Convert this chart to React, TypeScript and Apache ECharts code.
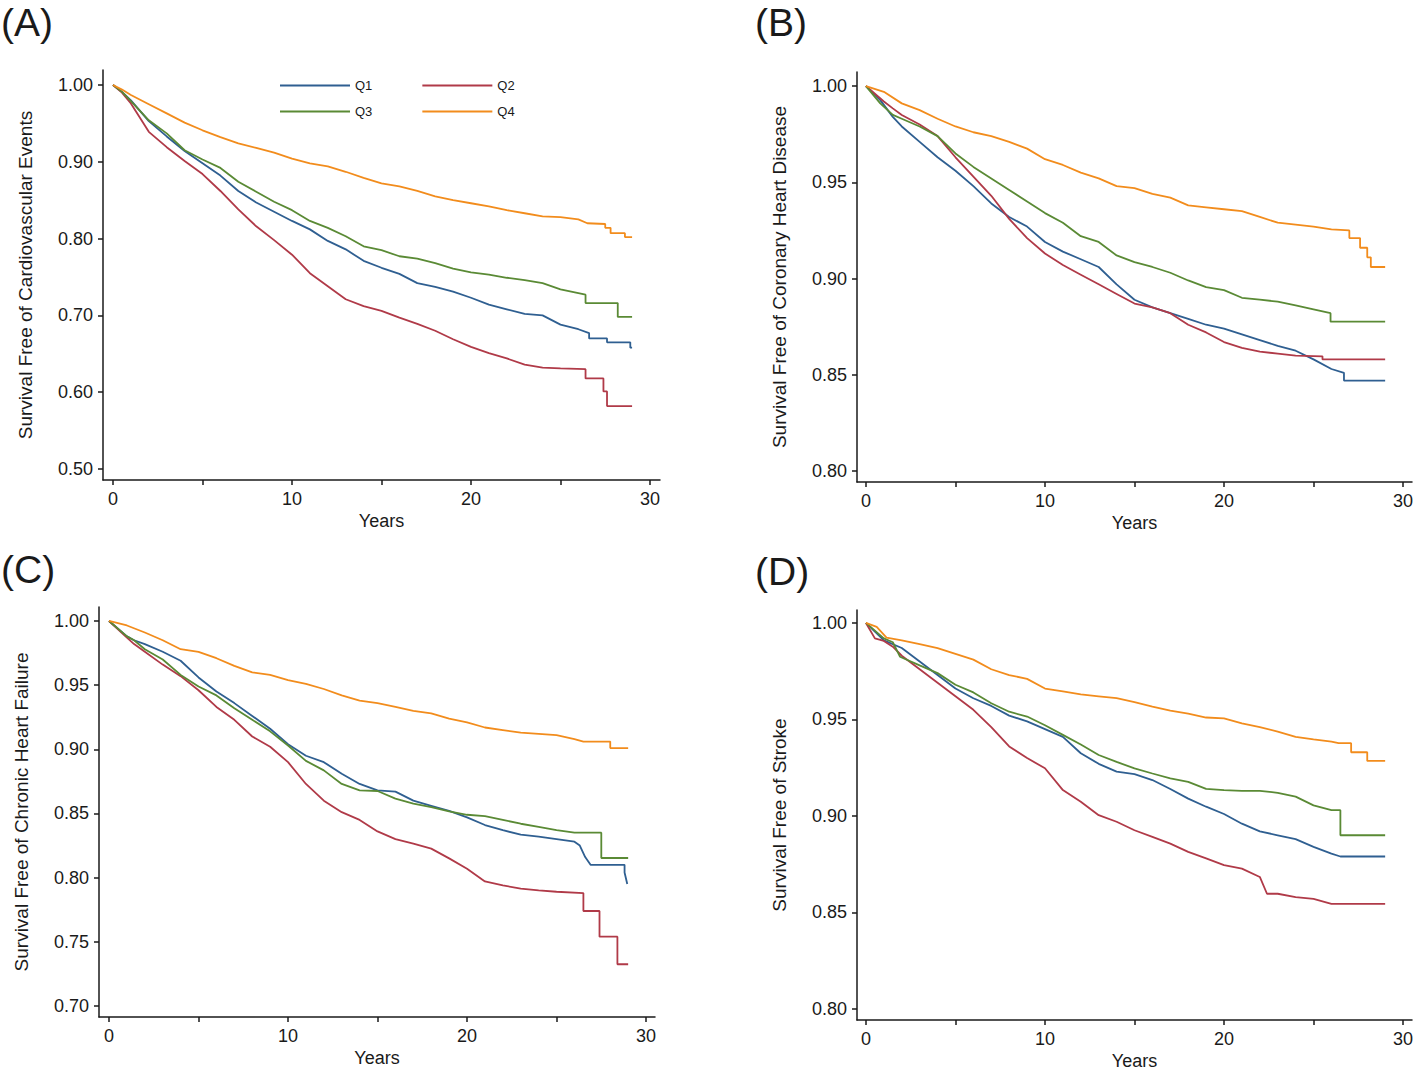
import React, { useEffect, useRef } from "react";
import * as echarts from "echarts";

type Pt = [number, number];

// ---------- Data (Kaplan-Meier survival) ----------
const seriesNames = ["Q1", "Q2", "Q3", "Q4"];
const seriesColors = ["#2f5f91", "#b03a48", "#5a8a35", "#f28c1c"];

const xTickValues = [0, 5, 10, 15, 20, 25, 30];
const xLabelValues = [0, 10, 20, 30];

const panelLetters = ["(A)", "(B)", "(C)", "(D)"];
const yTitles = [
  "Survival Free of Cardiovascular Events",
  "Survival Free of Coronary Heart Disease",
  "Survival Free of Chronic Heart Failure",
  "Survival Free of Stroke",
];
const yTicksA = [0.5, 0.6, 0.7, 0.8, 0.9, 1.0];
const yTicksB = [0.8, 0.85, 0.9, 0.95, 1.0];
const yTicksC = [0.7, 0.75, 0.8, 0.85, 0.9, 0.95, 1.0];
const yTicksD = [0.8, 0.85, 0.9, 0.95, 1.0];

// (A) Cardiovascular events
const cvdQ1: Pt[] = [[0,1],[0.5,0.991],[1,0.98],[2,0.953],[3,0.933],[4,0.914],[5,0.898],[6,0.882],[7,0.862],[8,0.847],[9,0.835],[10,0.823],[11,0.812],[12,0.797],[13,0.786],[14,0.771],[15,0.762],[16,0.754],[17,0.742],[18,0.737],[19,0.731],[20,0.723],[21,0.714],[22,0.708],[23,0.702],[24,0.7],[25,0.688],[26,0.682],[26.6,0.677],[26.6,0.67],[27.6,0.67],[27.6,0.665],[28.9,0.665],[28.9,0.658],[29,0.658]];
const cvdQ2: Pt[] = [[0,1],[0.5,0.99],[1,0.976],[2,0.939],[3,0.919],[4,0.901],[5,0.884],[6,0.862],[7,0.838],[8,0.816],[9,0.798],[10,0.779],[11,0.755],[12,0.738],[13,0.721],[14,0.712],[15,0.706],[16,0.697],[17,0.689],[18,0.68],[19,0.669],[20,0.659],[21,0.651],[22,0.644],[23,0.636],[24,0.632],[25,0.631],[26.4,0.63],[26.4,0.618],[27.4,0.618],[27.4,0.601],[27.6,0.601],[27.6,0.582],[29,0.582]];
const cvdQ3: Pt[] = [[0,1],[0.5,0.991],[1,0.979],[2,0.954],[3,0.937],[4,0.915],[5,0.903],[6,0.892],[7,0.874],[8,0.861],[9,0.848],[10,0.837],[11,0.823],[12,0.814],[13,0.803],[14,0.79],[15,0.785],[16,0.777],[17,0.774],[18,0.768],[19,0.761],[20,0.756],[21,0.753],[22,0.749],[23,0.746],[24,0.742],[25,0.734],[26.4,0.727],[26.4,0.716],[28.2,0.716],[28.2,0.698],[29,0.698]];
const cvdQ4: Pt[] = [[0,1],[0.5,0.994],[1,0.987],[2,0.975],[3,0.963],[4,0.951],[5,0.941],[6,0.932],[7,0.924],[8,0.918],[9,0.912],[10,0.904],[11,0.898],[12,0.894],[13,0.887],[14,0.879],[15,0.872],[16,0.868],[17,0.862],[18,0.855],[19,0.85],[20,0.846],[21,0.842],[22,0.837],[23,0.833],[24,0.829],[25,0.828],[26,0.825],[26.5,0.82],[27.5,0.819],[27.5,0.814],[27.8,0.814],[27.8,0.807],[28.6,0.807],[28.6,0.802],[29,0.802]];

// (B) Coronary heart disease
const chdQ1: Pt[] = [[0,1],[0.8,0.9927],[1.5,0.984],[2,0.979],[3,0.971],[4,0.963],[5,0.956],[6,0.948],[7,0.939],[8,0.932],[9,0.927],[10,0.919],[11,0.914],[12,0.91],[13,0.906],[14,0.897],[15,0.889],[16,0.885],[17,0.882],[18,0.879],[19,0.876],[20,0.874],[21,0.871],[22,0.868],[23,0.865],[24,0.8625],[25,0.858],[26,0.853],[26.7,0.851],[26.7,0.847],[29,0.847]];
const chdQ2: Pt[] = [[0,1],[1,0.992],[1.5,0.9884],[2,0.985],[3,0.98],[4,0.974],[5,0.963],[6,0.953],[7,0.943],[8,0.931],[9,0.921],[10,0.913],[11,0.907],[12,0.902],[13,0.897],[14,0.892],[15,0.887],[16,0.885],[17,0.882],[18,0.876],[19,0.872],[20,0.867],[21,0.864],[22,0.862],[23,0.861],[24,0.86],[25.5,0.8596],[25.5,0.858],[29,0.858]];
const chdQ3: Pt[] = [[0,1],[0.8,0.991],[1.5,0.985],[2,0.983],[3,0.979],[4,0.974],[5,0.965],[6,0.958],[7,0.952],[8,0.946],[9,0.94],[10,0.934],[11,0.929],[12,0.922],[13,0.919],[14,0.912],[15,0.9085],[16,0.906],[17,0.903],[18,0.899],[19,0.8955],[20,0.894],[21,0.89],[22,0.889],[23,0.888],[24,0.886],[25,0.884],[25.95,0.882],[25.95,0.8776],[29,0.8776]];
const chdQ4: Pt[] = [[0,1],[1,0.997],[2,0.991],[3,0.9875],[4,0.983],[5,0.979],[6,0.976],[7,0.974],[8,0.971],[9,0.9675],[10,0.962],[11,0.959],[12,0.955],[13,0.952],[14,0.948],[15,0.947],[16,0.944],[17,0.942],[18,0.938],[19,0.937],[20,0.936],[21,0.935],[22,0.932],[23,0.929],[24,0.928],[25,0.927],[26,0.9255],[27,0.925],[27,0.921],[27.6,0.921],[27.6,0.916],[28,0.916],[28,0.911],[28.2,0.911],[28.2,0.906],[29,0.906]];

// (C) Chronic heart failure
const chfQ1: Pt[] = [[0,1],[1,0.988],[1.4,0.985],[2,0.982],[3,0.976],[4,0.969],[5,0.956],[6,0.945],[7,0.936],[8,0.926],[9,0.916],[10,0.904],[11,0.895],[12,0.89],[13,0.881],[14,0.873],[15,0.868],[16,0.867],[17,0.86],[18,0.856],[19,0.852],[20,0.847],[21,0.841],[22,0.837],[23,0.8335],[24,0.832],[25,0.83],[26,0.828],[26.3,0.825],[26.6,0.816],[26.9,0.81],[28.8,0.81],[28.8,0.804],[28.95,0.795]];
const chfQ2: Pt[] = [[0,1],[1,0.987],[1.4,0.982],[2,0.976],[3,0.966],[4,0.957],[5,0.946],[6,0.933],[7,0.923],[8,0.91],[9,0.902],[10,0.89],[11,0.873],[12,0.86],[13,0.851],[14,0.845],[15,0.836],[16,0.83],[17,0.8265],[18,0.8226],[19,0.815],[20,0.807],[21,0.797],[22,0.794],[23,0.7914],[24,0.79],[25,0.789],[26.5,0.788],[26.5,0.774],[27.4,0.774],[27.4,0.754],[28.4,0.754],[28.4,0.7325],[29,0.7325]];
const chfQ3: Pt[] = [[0,1],[1,0.988],[1.4,0.985],[2,0.978],[3,0.97],[4,0.958],[5,0.949],[6,0.942],[7,0.932],[8,0.923],[9,0.914],[10,0.903],[11,0.891],[12,0.8836],[13,0.873],[14,0.868],[15,0.8675],[16,0.8616],[17,0.8577],[18,0.855],[19,0.8517],[20,0.849],[21,0.848],[22,0.845],[23,0.842],[24,0.8395],[25,0.837],[26,0.835],[27.5,0.835],[27.5,0.8153],[29,0.8153]];
const chfQ4: Pt[] = [[0,1],[1,0.9965],[2,0.991],[3,0.985],[4,0.978],[5,0.976],[6,0.971],[7,0.965],[8,0.96],[9,0.958],[10,0.954],[11,0.951],[12,0.947],[13,0.942],[14,0.938],[15,0.936],[16,0.933],[17,0.93],[18,0.928],[19,0.924],[20,0.921],[21,0.917],[22,0.915],[23,0.913],[24,0.912],[25,0.911],[26,0.908],[26.5,0.906],[28,0.906],[28,0.901],[29,0.901]];

// (D) Stroke
const strQ1: Pt[] = [[0,1],[0.5,0.9955],[1,0.991],[2,0.987],[3,0.98],[4,0.973],[5,0.966],[6,0.961],[7,0.957],[8,0.952],[9,0.949],[10,0.945],[11,0.941],[12,0.9325],[13,0.927],[14,0.923],[15,0.9217],[16,0.9186],[17,0.914],[18,0.909],[19,0.9048],[20,0.901],[21,0.896],[22,0.892],[23,0.89],[24,0.888],[25,0.884],[26,0.8805],[26.5,0.879],[29,0.879]];
const strQ2: Pt[] = [[0,1],[0.5,0.992],[1,0.9907],[1.5,0.9877],[2,0.983],[3,0.976],[4,0.969],[5,0.962],[6,0.955],[7,0.946],[8,0.936],[9,0.93],[10,0.9247],[11,0.9134],[12,0.9074],[13,0.9004],[14,0.897],[15,0.8926],[16,0.8892],[17,0.8857],[18,0.8814],[19,0.878],[20,0.8745],[21,0.8727],[22,0.8684],[22.4,0.8597],[23,0.8597],[24,0.858],[25,0.857],[26,0.8545],[29,0.8545]];
const strQ3: Pt[] = [[0,1],[1,0.992],[1.5,0.99],[1.9,0.9825],[3,0.978],[4,0.974],[5,0.968],[6,0.964],[7,0.9584],[8,0.954],[9,0.9515],[10,0.947],[11,0.942],[12,0.937],[13,0.9316],[14,0.928],[15,0.9247],[16,0.922],[17,0.9195],[18,0.9177],[19,0.914],[20,0.9134],[21,0.913],[22,0.913],[23,0.912],[24,0.91],[25,0.9055],[26,0.903],[26.5,0.903],[26.5,0.89],[29,0.89]];
const strQ4: Pt[] = [[0,1],[0.6,0.998],[1.15,0.9924],[2,0.991],[3,0.989],[4,0.987],[5,0.984],[6,0.981],[7,0.976],[8,0.973],[9,0.971],[10,0.966],[11,0.9645],[12,0.963],[13,0.962],[14,0.961],[15,0.959],[16,0.9567],[17,0.9546],[18,0.953],[19,0.951],[20,0.9506],[21,0.948],[22,0.946],[23,0.9437],[24,0.941],[25,0.9397],[26,0.9385],[26.4,0.9377],[27.1,0.9377],[27.1,0.933],[28,0.933],[28,0.9285],[29,0.9285]];

const panelData: Pt[][][] = [
  [cvdQ1, cvdQ2, cvdQ3, cvdQ4],
  [chdQ1, chdQ2, chdQ3, chdQ4],
  [chfQ1, chfQ2, chfQ3, chfQ4],
  [strQ1, strQ2, strQ3, strQ4],
];
const panelYTicks = [yTicksA, yTicksB, yTicksC, yTicksD];

// ---------- Layout ----------
const FONT = "'Liberation Sans', Arial, Helvetica, sans-serif";
const INK = "#1a1a1a";

const layout = [
  { left: 103, top: 70, width: 557, height: 410, xMin: -0.56, xMax: 30.56, yMin: 0.4857, yMax: 1.0195, letterX: 1, letterY: 3 },
  { left: 857, top: 72, width: 555, height: 410, xMin: -0.5, xMax: 30.5, yMin: 0.7943, yMax: 1.0073, letterX: 755, letterY: 3 },
  { left: 99, top: 607, width: 556, height: 410, xMin: -0.56, xMax: 30.5, yMin: 0.6914, yMax: 1.0109, letterX: 1, letterY: 550 },
  { left: 857, top: 610, width: 555, height: 410, xMin: -0.5, xMax: 30.5, yMin: 0.7943, yMax: 1.0067, letterX: 755, letterY: 552 },
];

export default function App() {
  const ref = useRef<HTMLDivElement>(null);

  useEffect(() => {
    if (!ref.current) return;
    const chart = echarts.init(ref.current, null, { renderer: "svg" });

    const axisLineStyle = { color: INK, width: 1.5 };

    const legendBase = {
      left: 275,
      orient: "horizontal",
      icon: "rect",
      itemWidth: 70,
      itemHeight: 2,
      itemGap: 50,
      textStyle: { fontSize: 13, color: INK, fontFamily: FONT },
      selectedMode: false,
    };

    const option: any = {
      animation: false,
      backgroundColor: "#ffffff",
      textStyle: { fontFamily: FONT },
      grid: layout.map((l) => ({
        left: l.left,
        top: l.top,
        width: l.width,
        height: l.height,
        containLabel: false,
      })),
      xAxis: layout.map((l, i) => ({
        type: "value",
        gridIndex: i,
        min: l.xMin,
        max: l.xMax,
        name: "Years",
        nameLocation: "middle",
        nameGap: 32,
        nameTextStyle: { fontSize: 18, color: INK, fontFamily: FONT },
        axisLine: { show: true, onZero: false, lineStyle: axisLineStyle },
        axisTick: { show: true, customValues: xTickValues, length: 5, lineStyle: axisLineStyle },
        axisLabel: { customValues: xLabelValues, fontSize: 18, margin: 10, color: INK, fontFamily: FONT },
        splitLine: { show: false },
      })),
      yAxis: layout.map((l, i) => ({
        type: "value",
        gridIndex: i,
        min: l.yMin,
        max: l.yMax,
        name: yTitles[i],
        nameLocation: "middle",
        nameRotate: 90,
        nameGap: 68,
        nameTextStyle: { fontSize: 19, color: INK, fontFamily: FONT },
        axisLine: { show: true, onZero: false, lineStyle: axisLineStyle },
        axisTick: { show: true, customValues: panelYTicks[i], length: 5, lineStyle: axisLineStyle },
        axisLabel: {
          customValues: panelYTicks[i],
          fontSize: 18,
          margin: 10,
          color: INK,
          fontFamily: FONT,
          formatter: (v: number) => v.toFixed(2),
        },
        splitLine: { show: false },
      })),
      legend: [
        { ...legendBase, data: ["Q1", "Q2"], top: 74 },
        { ...legendBase, data: ["Q3", "Q4"], top: 100 },
      ],
      graphic: layout.map((l, i) => ({
        type: "text",
        left: l.letterX,
        top: l.letterY,
        style: { text: panelLetters[i], fontSize: 39, fill: INK, fontFamily: FONT },
      })),
      series: panelData.flatMap((curves, pi) =>
        curves.map((d, si) => ({
          name: seriesNames[si],
          type: "line",
          xAxisIndex: pi,
          yAxisIndex: pi,
          data: d,
          showSymbol: false,
          symbol: "none",
          smooth: false,
          lineStyle: { color: seriesColors[si], width: 1.8 },
          itemStyle: { color: seriesColors[si] },
          z: 2 + si,
        }))
      ),
    };

    chart.setOption(option);
    return () => chart.dispose();
  }, []);

  return (
    <div
      ref={ref}
      style={{ position: "fixed", left: 0, top: 0, width: 1418, height: 1072, background: "#fff" }}
    />
  );
}
